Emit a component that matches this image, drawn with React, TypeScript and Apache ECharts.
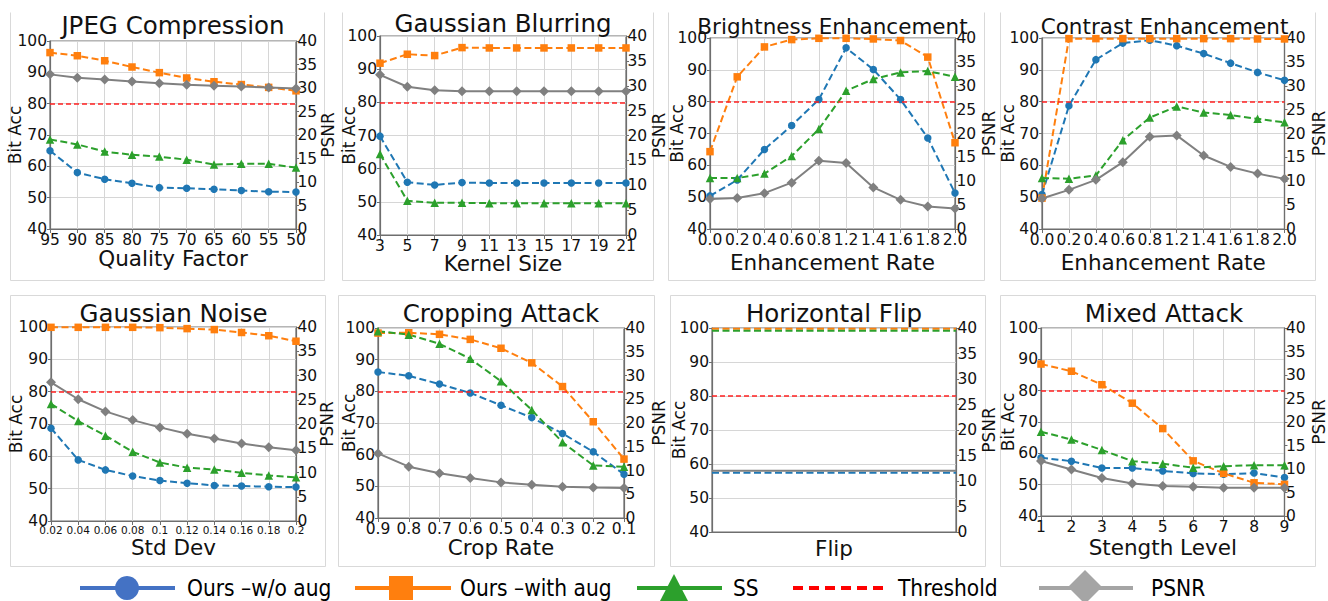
import React, { useEffect, useRef } from 'react';
import * as echarts from 'echarts';

const FONT = "'DejaVu Sans', sans-serif";
const LEGEND_FONT = "'Liberation Sans Narrow', 'DejaVu Sans Condensed', sans-serif";

const C_WO = '#1f77b4';
const C_WITH = '#ff7f0e';
const C_SS = '#2ca02c';
const C_PSNR = '#808080';
const C_TH = '#ff2020';

const SERIES_NAMES = ['Ours –w/o aug', 'Ours –with aug', 'SS', 'Threshold', 'PSNR'];
const THRESHOLD = 80;
const ACC_MIN = 40, ACC_MAX = 100, ACC_STEP = 10;
const PSNR_MIN = 0, PSNR_MAX = 40, PSNR_STEP = 5;

// JPEG Compression
const JPEG_X = ['95', '90', '85', '80', '75', '70', '65', '60', '55', '50'];
const JPEG_WO = [65.0, 58.0, 55.9, 54.6, 53.2, 53.0, 52.7, 52.3, 51.9, 51.8];
const JPEG_WITH = [96.3, 95.3, 93.7, 91.7, 89.9, 88.2, 87.0, 86.1, 85.2, 84.1];
const JPEG_SS = [68.6, 67.0, 64.7, 63.7, 63.1, 62.1, 60.6, 60.8, 60.8, 59.6];
const JPEG_PSNR = [32.9, 32.2, 31.8, 31.4, 31.0, 30.7, 30.5, 30.3, 30.1, 29.9];

// Gaussian Blurring
const BLUR_X = ['3', '5', '7', '9', '11', '13', '15', '17', '19', '21'];
const BLUR_WO = [69.8, 55.9, 55.1, 55.8, 55.7, 55.7, 55.7, 55.7, 55.7, 55.7];
const BLUR_WITH = [91.8, 94.5, 94.1, 96.5, 96.4, 96.4, 96.4, 96.4, 96.4, 96.4];
const BLUR_SS = [64.4, 50.3, 49.7, 49.7, 49.6, 49.6, 49.6, 49.6, 49.6, 49.6];
const BLUR_PSNR = [32.2, 29.8, 29.1, 28.9, 28.9, 28.9, 28.9, 28.9, 28.9, 28.9];

// Brightness Enhancement
const BRIGHT_X = ['0.0', '0.2', '0.4', '0.6', '0.8', '1.2', '1.4', '1.6', '1.8', '2.0'];
const BRIGHT_WO = [50.4, 55.4, 65.0, 72.5, 80.7, 96.9, 90.1, 80.7, 68.6, 51.3];
const BRIGHT_WITH = [64.3, 87.8, 97.2, 99.5, 99.9, 99.9, 99.7, 99.2, 94.0, 67.1];
const BRIGHT_SS = [56.0, 56.0, 57.4, 62.9, 71.4, 83.4, 87.1, 89.2, 89.6, 87.8];
const BRIGHT_PSNR = [6.3, 6.5, 7.5, 9.7, 14.3, 13.8, 8.7, 6.1, 4.7, 4.3];

// Contrast Enhancement
const CONTRAST_X = ['0.0', '0.2', '0.4', '0.6', '0.8', '1.2', '1.4', '1.6', '1.8', '2.0'];
const CONTRAST_WO = [50.8, 78.7, 93.2, 98.4, 99.3, 97.6, 95.1, 92.1, 89.2, 86.7];
const CONTRAST_WITH = [49.7, 99.8, 99.8, 99.8, 99.8, 99.8, 99.8, 99.8, 99.7, 99.7];
const CONTRAST_SS = [56.0, 55.8, 56.8, 67.9, 75.0, 78.5, 76.6, 75.8, 74.6, 73.5];
const CONTRAST_PSNR = [6.4, 8.2, 10.3, 14.0, 19.3, 19.6, 15.4, 13.0, 11.6, 10.5];

// Gaussian Noise
const NOISE_X = ['0.02', '0.04', '0.06', '0.08', '0.1', '0.12', '0.14', '0.16', '0.18', '0.2'];
const NOISE_WO = [68.7, 58.9, 55.8, 53.9, 52.5, 51.7, 51.0, 50.8, 50.6, 50.5];
const NOISE_WITH = [99.9, 99.9, 99.9, 99.9, 99.8, 99.5, 99.2, 98.3, 97.3, 95.6];
const NOISE_SS = [76.2, 70.9, 66.4, 61.4, 58.1, 56.5, 55.9, 54.9, 54.1, 53.5];
const NOISE_PSNR = [28.6, 25.1, 22.6, 20.8, 19.3, 18.0, 17.0, 16.0, 15.2, 14.6];

// Cropping Attack
const CROP_X = ['0.9', '0.8', '0.7', '0.6', '0.5', '0.4', '0.3', '0.2', '0.1'];
const CROP_WO = [86.1, 84.9, 82.3, 79.5, 75.6, 71.7, 66.7, 60.9, 53.8];
const CROP_WITH = [98.4, 98.5, 98.0, 96.4, 93.6, 89.0, 81.5, 70.4, 58.6];
const CROP_SS = [99.0, 97.9, 95.0, 90.3, 83.2, 74.1, 63.9, 56.6, 56.2];
const CROP_PSNR = [13.6, 10.8, 9.4, 8.4, 7.5, 7.0, 6.6, 6.4, 6.3];

// Horizontal Flip (single setting, drawn across the panel)
const FLIP_X = ['', ''];
const FLIP_WO = [57.4, 57.4];
const FLIP_WITH = [99.8, 99.8];
const FLIP_SS = [99.2, 99.2];
const FLIP_PSNR = [12.0, 12.0];

// Mixed Attack
const MIXED_X = ['1', '2', '3', '4', '5', '6', '7', '8', '9'];
const MIXED_WO = [58.6, 57.5, 55.3, 55.3, 54.4, 53.6, 53.3, 53.7, 52.3];
const MIXED_WITH = [88.5, 86.2, 81.9, 76.0, 67.9, 57.6, 53.6, 50.6, 50.1];
const MIXED_SS = [66.9, 64.4, 61.1, 57.5, 56.7, 55.4, 55.9, 56.2, 56.2];
const MIXED_PSNR = [11.7, 9.9, 8.1, 6.9, 6.4, 6.2, 6.0, 6.0, 6.0];

interface Panel {
  title: string;
  xName: string;
  cats: string[];
  wo: number[];
  withAug: number[];
  ss: number[];
  psnr: number[];
  grid: { left: number; top: number; width: number; height: number };
  box: { x: number; y: number; w: number; h: number; openTop?: boolean };
  titleSize: number;
  titleTop: number;
  xNameGap: number;
  xLabelSize: number;
  leftNameGap: number;
  rightNameGap: number;
  noXLabels?: boolean;
  markers?: boolean;
}

const PANELS: Panel[] = [
  {
    title: 'JPEG Compression', xName: 'Quality Factor', cats: JPEG_X,
    wo: JPEG_WO, withAug: JPEG_WITH, ss: JPEG_SS, psnr: JPEG_PSNR,
    grid: { left: 50, top: 41, width: 246, height: 188 },
    box: { x: 10, y: 12, w: 314, h: 268, openTop: true },
    titleSize: 24.5, titleTop: 13, xNameGap: 18, xLabelSize: 15.5, leftNameGap: 35, rightNameGap: 32,
  },
  {
    title: 'Gaussian Blurring', xName: 'Kernel Size', cats: BLUR_X,
    wo: BLUR_WO, withAug: BLUR_WITH, ss: BLUR_SS, psnr: BLUR_PSNR,
    grid: { left: 380, top: 36, width: 246, height: 199 },
    box: { x: 342, y: 12, w: 311, h: 268, openTop: true },
    titleSize: 24.5, titleTop: 11, xNameGap: 17, xLabelSize: 15.5, leftNameGap: 31, rightNameGap: 33,
  },
  {
    title: 'Brightness Enhancement', xName: 'Enhancement Rate', cats: BRIGHT_X,
    wo: BRIGHT_WO, withAug: BRIGHT_WITH, ss: BRIGHT_SS, psnr: BRIGHT_PSNR,
    grid: { left: 710, top: 38, width: 245, height: 191 },
    box: { x: 668, y: 12, w: 316, h: 268, openTop: true },
    titleSize: 21.5, titleTop: 15, xNameGap: 22, xLabelSize: 15.5, leftNameGap: 33, rightNameGap: 34,
  },
  {
    title: 'Contrast Enhancement', xName: 'Enhancement Rate', cats: CONTRAST_X,
    wo: CONTRAST_WO, withAug: CONTRAST_WITH, ss: CONTRAST_SS, psnr: CONTRAST_PSNR,
    grid: { left: 1042, top: 38, width: 245, height: 191 },
    box: { x: 1000, y: 12, w: 315, h: 268, openTop: true },
    titleSize: 21.5, titleTop: 15, xNameGap: 22, xLabelSize: 15.5, leftNameGap: 34, rightNameGap: 34,
  },
  {
    title: 'Gaussian Noise', xName: 'Std Dev', cats: NOISE_X,
    wo: NOISE_WO, withAug: NOISE_WITH, ss: NOISE_SS, psnr: NOISE_PSNR,
    grid: { left: 51, top: 327, width: 245, height: 194 },
    box: { x: 10, y: 295, w: 315, h: 271 },
    titleSize: 24.5, titleTop: 301, xNameGap: 15, xLabelSize: 10.5, leftNameGap: 35, rightNameGap: 31,
  },
  {
    title: 'Cropping Attack', xName: 'Crop Rate', cats: CROP_X,
    wo: CROP_WO, withAug: CROP_WITH, ss: CROP_SS, psnr: CROP_PSNR,
    grid: { left: 378, top: 328, width: 246, height: 190 },
    box: { x: 338, y: 295, w: 316, h: 271 },
    titleSize: 24.5, titleTop: 301, xNameGap: 18, xLabelSize: 15.5, leftNameGap: 29, rightNameGap: 35,
  },
  {
    title: 'Horizontal Flip', xName: 'Flip', cats: FLIP_X,
    wo: FLIP_WO, withAug: FLIP_WITH, ss: FLIP_SS, psnr: FLIP_PSNR,
    grid: { left: 712, top: 328, width: 244, height: 204 },
    box: { x: 670, y: 295, w: 315, h: 271 },
    titleSize: 24.5, titleTop: 301, xNameGap: 5, xLabelSize: 15.5, leftNameGap: 33, rightNameGap: 33,
    noXLabels: true, markers: false,
  },
  {
    title: 'Mixed Attack', xName: 'Stength Level', cats: MIXED_X,
    wo: MIXED_WO, withAug: MIXED_WITH, ss: MIXED_SS, psnr: MIXED_PSNR,
    grid: { left: 1041, top: 328, width: 246, height: 188 },
    box: { x: 1000, y: 295, w: 315, h: 271 },
    titleSize: 24.5, titleTop: 301, xNameGap: 20, xLabelSize: 15.5, leftNameGap: 33, rightNameGap: 34,
  },
];

const SPINE = '#6e6e6e';
const GRIDC = '#d6d6d6';
const TXT = '#111';
const BOXC = '#d9d9d9';

function buildOption() {
  const grid: any[] = [];
  const xAxis: any[] = [];
  const yAxis: any[] = [];
  const series: any[] = [];
  const title: any[] = [];
  const graphic: any[] = [];

  PANELS.forEach((p, i) => {
    const b = p.box;
    const x0 = b.x + 0.5, y0 = b.y + 0.5, x1 = b.x + b.w + 0.5, y1 = b.y + b.h + 0.5;
    if (b.openTop) {
      graphic.push({
        type: 'polyline', silent: true, z: -10,
        shape: { points: [[x0, y0], [x0, y1], [x1, y1], [x1, y0]] },
        style: { fill: 'none', stroke: BOXC, lineWidth: 1 },
      });
    } else {
      graphic.push({
        type: 'rect', silent: true, z: -10,
        shape: { x: x0, y: y0, width: b.w, height: b.h },
        style: { fill: 'none', stroke: BOXC, lineWidth: 1 },
      });
    }
    grid.push({
      left: p.grid.left, top: p.grid.top, width: p.grid.width, height: p.grid.height,
      show: true, borderColor: SPINE, borderWidth: 1.2, backgroundColor: 'transparent',
      containLabel: false,
    });
    title.push({
      text: p.title, left: p.grid.left + p.grid.width / 2, top: p.titleTop,
      textAlign: 'center', padding: 0,
      textStyle: { fontFamily: FONT, fontSize: p.titleSize, fontWeight: 'normal', color: '#111' },
    });
    xAxis.push({
      type: 'category', gridIndex: i, data: p.cats, boundaryGap: false,
      name: p.xName, nameLocation: 'middle', nameGap: p.xNameGap, nameMoveOverlap: false,
      nameTextStyle: { fontFamily: FONT, fontSize: 21.5, color: TXT },
      axisLine: { show: true, lineStyle: { color: SPINE, width: 1.2 } },
      axisTick: { show: !p.noXLabels, length: 4, lineStyle: { color: SPINE } },
      axisLabel: { show: !p.noXLabels, interval: 0, fontFamily: FONT, fontSize: p.xLabelSize, color: TXT, margin: 3 },
      splitLine: { show: !p.noXLabels, interval: 0, lineStyle: { color: GRIDC, width: 1 } },
    });
    yAxis.push({
      type: 'value', gridIndex: i, position: 'left', min: ACC_MIN, max: ACC_MAX, interval: ACC_STEP,
      name: 'Bit Acc', nameLocation: 'middle', nameGap: p.leftNameGap, nameRotate: 90, nameMoveOverlap: false,
      nameTextStyle: { fontFamily: FONT, fontSize: 17, color: TXT, align: 'center', verticalAlign: 'middle' },
      axisLine: { show: true, lineStyle: { color: SPINE, width: 1.2 } },
      axisTick: { show: true, length: 3, lineStyle: { color: SPINE } },
      axisLabel: { fontFamily: FONT, fontSize: 15.5, color: TXT, margin: 3 },
      splitLine: { show: true, lineStyle: { color: GRIDC, width: 1 } },
    });
    yAxis.push({
      type: 'value', gridIndex: i, position: 'right', min: PSNR_MIN, max: PSNR_MAX, interval: PSNR_STEP,
      name: 'PSNR', nameLocation: 'middle', nameGap: p.rightNameGap, nameRotate: 90, nameMoveOverlap: false,
      nameTextStyle: { fontFamily: FONT, fontSize: 17, color: TXT, align: 'center', verticalAlign: 'middle' },
      axisLine: { show: true, lineStyle: { color: SPINE, width: 1.2 } },
      axisTick: { show: true, length: 3, lineStyle: { color: SPINE } },
      axisLabel: { fontFamily: FONT, fontSize: 15.5, color: TXT, margin: 1.5 },
      splitLine: { show: false },
    });
    const showSym = p.markers !== false;
    const dashed = (name: string, data: number[], color: string, symbol: string, size: number) => ({
      name, type: 'line', xAxisIndex: i, yAxisIndex: 2 * i, data,
      symbol: showSym ? symbol : 'none', symbolSize: size, showSymbol: showSym, clip: false,
      lineStyle: { color, width: 2, type: [7, 3.5] },
      itemStyle: { color, borderWidth: 0 },
      emphasis: { disabled: true }, silent: true,
    });
    series.push(dashed(SERIES_NAMES[0], p.wo, C_WO, 'circle', 7.5));
    series.push(dashed(SERIES_NAMES[1], p.withAug, C_WITH, 'rect', 7.5));
    series.push(dashed(SERIES_NAMES[2], p.ss, C_SS, 'triangle', 8.5));
    series.push({
      name: SERIES_NAMES[3], type: 'line', xAxisIndex: i, yAxisIndex: 2 * i, data: [],
      silent: true,
      markLine: {
        silent: true, symbol: 'none', label: { show: false },
        lineStyle: { color: C_TH, width: 1.5, type: [5, 3] },
        data: [{ yAxis: THRESHOLD }],
        emphasis: { disabled: true },
      },
    });
    series.push({
      name: SERIES_NAMES[4], type: 'line', xAxisIndex: i, yAxisIndex: 2 * i + 1, data: p.psnr,
      symbol: showSym ? 'diamond' : 'none', symbolSize: 10, showSymbol: showSym, clip: false,
      lineStyle: { color: C_PSNR, width: 2 },
      itemStyle: { color: C_PSNR, borderWidth: 0 },
      emphasis: { disabled: true }, silent: true,
    });
  });

  // Legend drawn with graphic elements (big Office-style markers)
  const LY = 588;
  const lfont = { fontFamily: LEGEND_FONT, fontSize: 22.5, fill: '#000' };
  const addText = (x: number, text: string) =>
    graphic.push({ type: 'text', x, y: LY, style: { ...lfont, text, verticalAlign: 'middle', align: 'left' } });
  graphic.push({ type: 'line', shape: { x1: 80, y1: LY, x2: 175, y2: LY }, style: { stroke: '#4472c4', lineWidth: 4 } });
  graphic.push({ type: 'circle', shape: { cx: 127, cy: LY, r: 12 }, style: { fill: '#4472c4' } });
  addText(187, SERIES_NAMES[0]);
  graphic.push({ type: 'line', shape: { x1: 355, y1: LY, x2: 451, y2: LY }, style: { stroke: '#ff7f0e', lineWidth: 4 } });
  graphic.push({ type: 'rect', shape: { x: 389, y: LY - 12, width: 24, height: 24 }, style: { fill: '#ff7f0e' } });
  addText(460, SERIES_NAMES[1]);
  graphic.push({ type: 'line', shape: { x1: 637, y1: LY, x2: 722, y2: LY }, style: { stroke: '#2ca02c', lineWidth: 4 } });
  graphic.push({ type: 'polygon', shape: { points: [[674, LY - 14], [660, LY + 13], [688, LY + 13]] }, style: { fill: '#2ca02c' } });
  addText(733, SERIES_NAMES[2]);
  graphic.push({ type: 'line', shape: { x1: 793, y1: LY, x2: 886, y2: LY }, style: { stroke: '#ff0000', lineWidth: 4, lineDash: [10, 6] } });
  addText(898, SERIES_NAMES[3]);
  graphic.push({ type: 'line', shape: { x1: 1039, y1: LY, x2: 1133, y2: LY }, style: { stroke: '#a5a5a5', lineWidth: 4 } });
  graphic.push({ type: 'polygon', shape: { points: [[1085, LY - 18], [1102, LY - 1], [1085, LY + 16], [1068, LY - 1]] }, style: { fill: '#a5a5a5' } });
  addText(1151, SERIES_NAMES[4]);

  return {
    animation: false,
    backgroundColor: '#ffffff',
    textStyle: { fontFamily: FONT },
    title, grid, xAxis, yAxis, series, graphic,
  };
}

export default function App() {
  const ref = useRef<HTMLDivElement>(null);
  useEffect(() => {
    if (!ref.current) return;
    const chart = echarts.init(ref.current, undefined, { renderer: 'svg' });
    chart.setOption(buildOption() as any);
    return () => chart.dispose();
  }, []);
  return (
    <div
      ref={ref}
      style={{ position: 'fixed', left: 0, top: 0, width: 1328, height: 601, background: '#fff' }}
    />
  );
}
